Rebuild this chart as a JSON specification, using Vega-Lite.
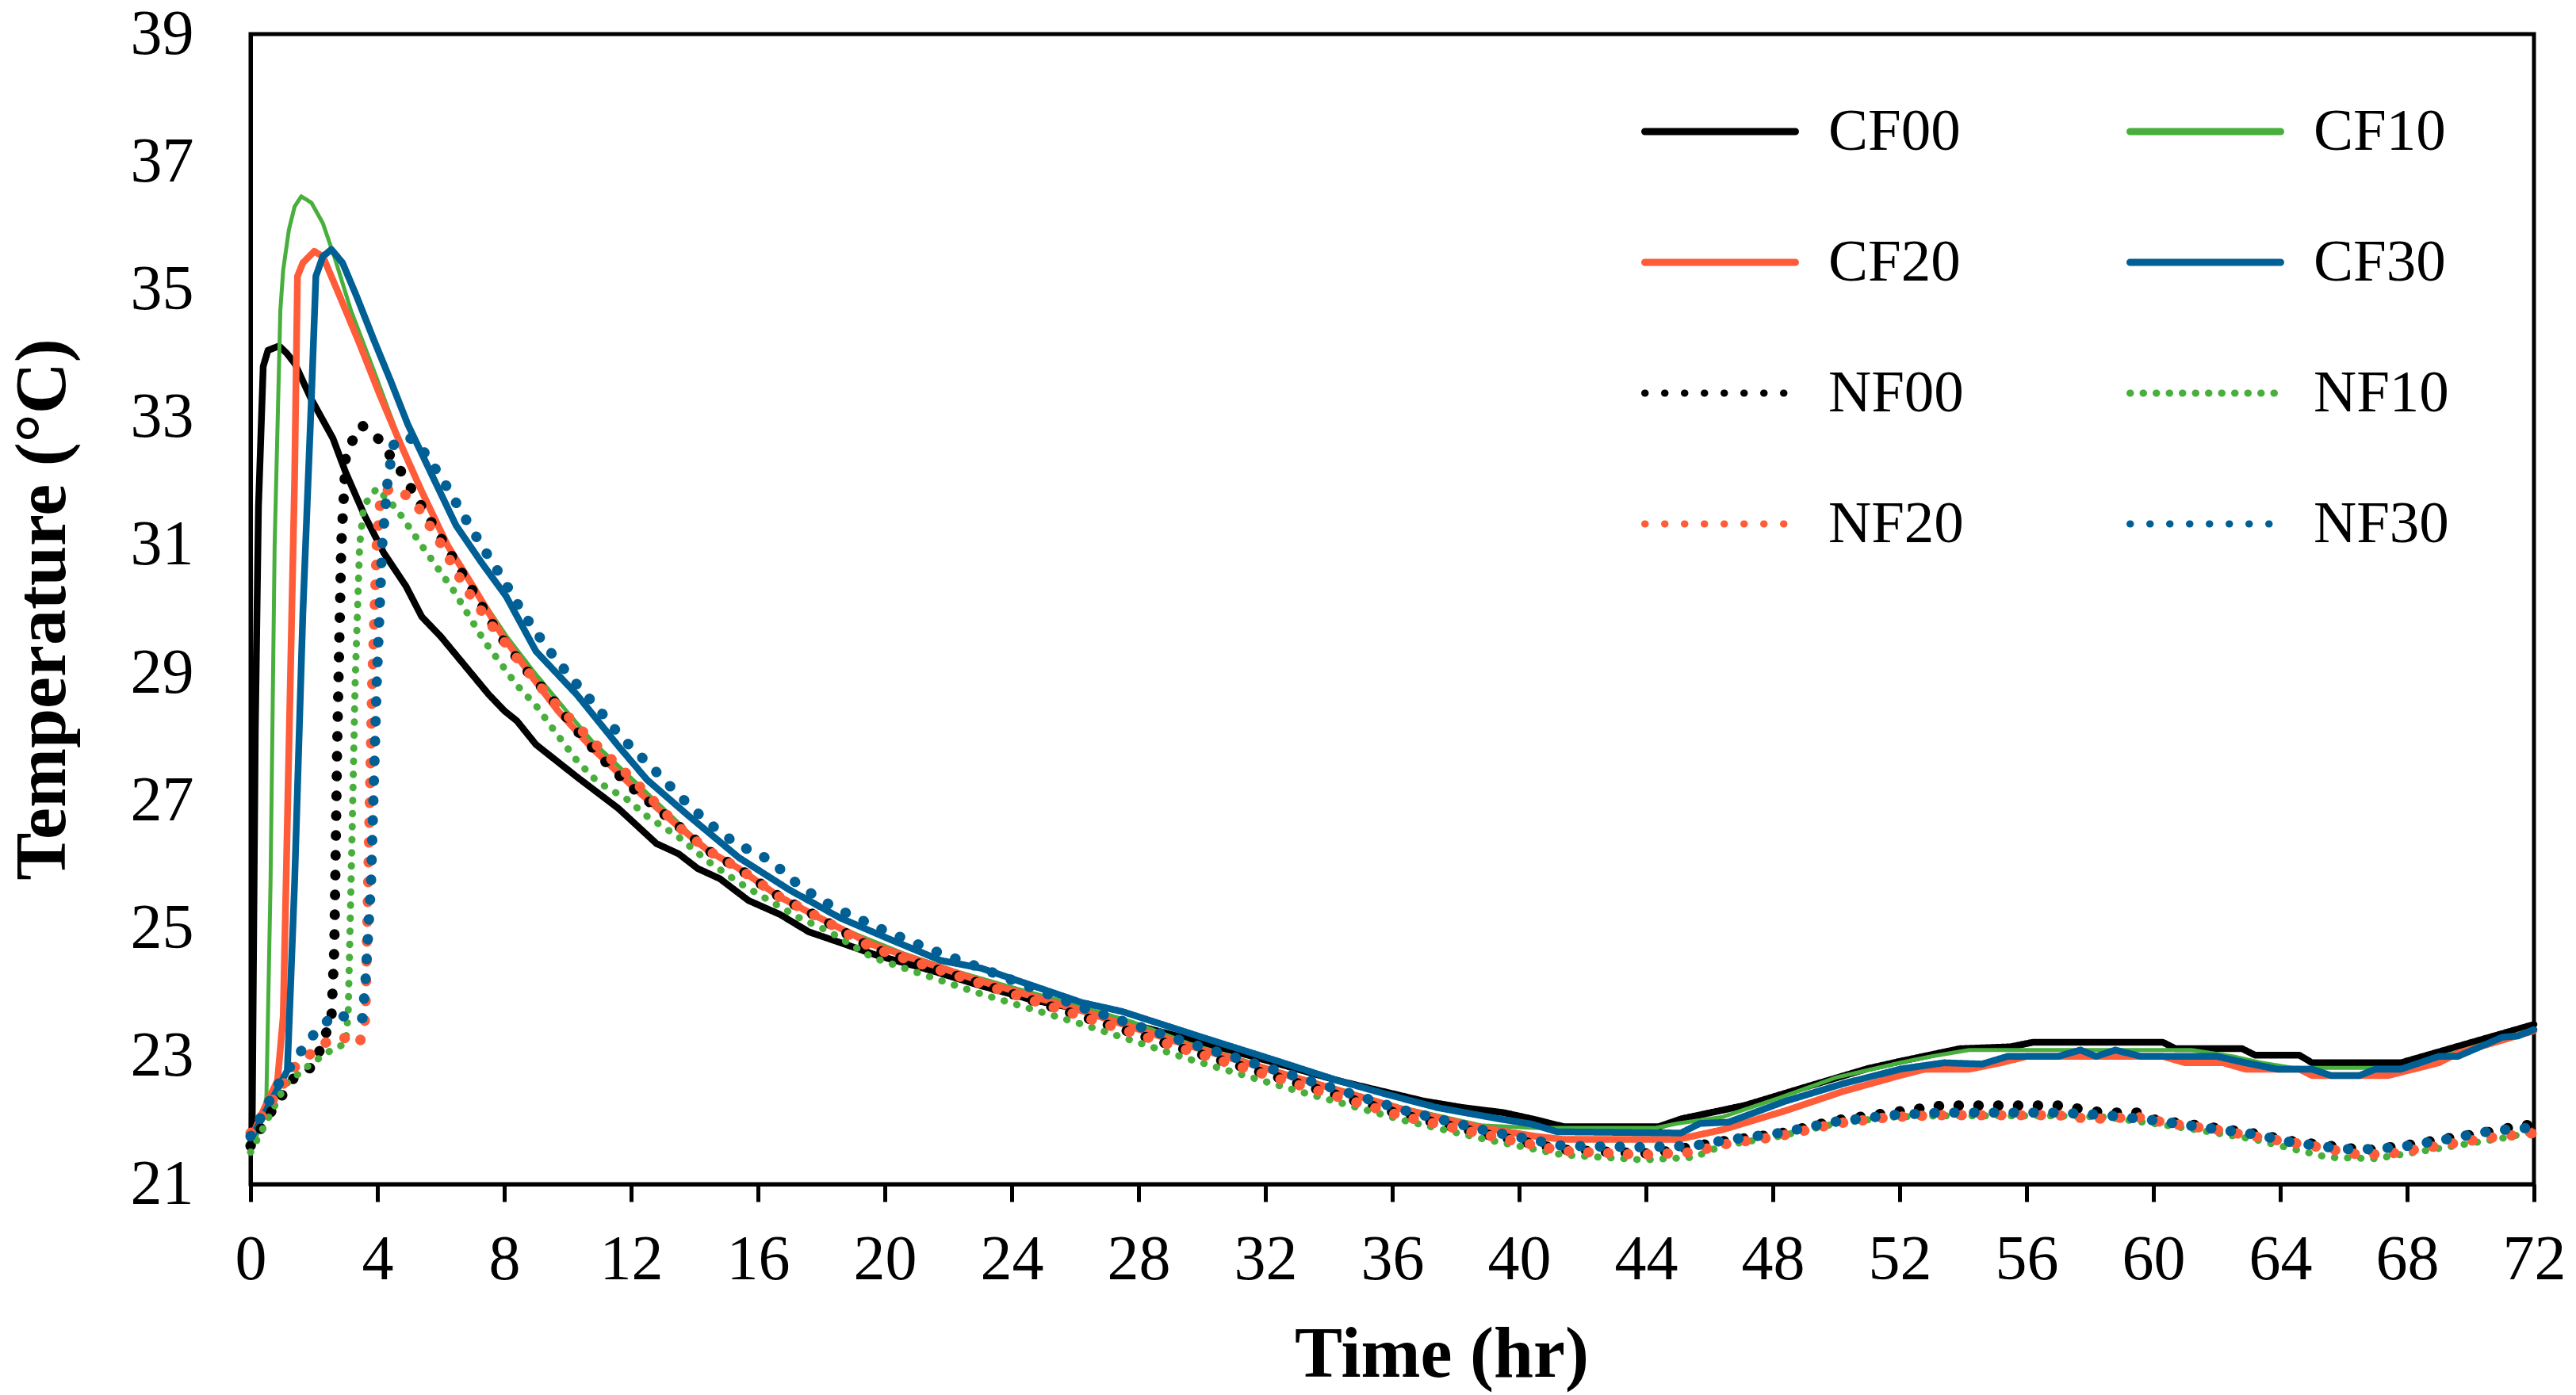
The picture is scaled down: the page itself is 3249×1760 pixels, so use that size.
{
  "$schema": "https://vega.github.io/schema/vega-lite/v6.json",
  "width": 2880,
  "height": 1451,
  "autosize": {"type": "none"},
  "padding": {"left": 316, "top": 43, "right": 53, "bottom": 266},
  "background": "white",
  "config": {
    "view": {"stroke": "black", "strokeWidth": 5},
    "font": "Liberation Serif",
    "axis": {
      "labelFont": "Liberation Serif",
      "titleFont": "Liberation Serif",
      "labelColor": "black",
      "titleColor": "black",
      "domainColor": "black",
      "tickColor": "black",
      "domainWidth": 5,
      "grid": false,
      "labelFlush": false,
      "labelOverlap": false
    }
  },
  "datasets": {
    "d": [
      {"s":"CF00","t":0,"T":21.6},{"s":"CF00","t":0.05,"T":21.8},{"s":"CF00","t":0.15,"T":28.1},{"s":"CF00","t":0.25,"T":31.6},{"s":"CF00","t":0.4,"T":33.8},{"s":"CF00","t":0.55,"T":34.05},{"s":"CF00","t":0.9,"T":34.12},{"s":"CF00","t":1.15,"T":34.0},{"s":"CF00","t":1.4,"T":33.84},{"s":"CF00","t":1.9,"T":33.3},{"s":"CF00","t":2.6,"T":32.67},{"s":"CF00","t":3.0,"T":32.14},{"s":"CF00","t":3.6,"T":31.46},{"s":"CF00","t":4.2,"T":30.88},{"s":"CF00","t":4.9,"T":30.36},{"s":"CF00","t":5.4,"T":29.88},{"s":"CF00","t":6.0,"T":29.57},{"s":"CF00","t":6.7,"T":29.15},{"s":"CF00","t":7.5,"T":28.67},{"s":"CF00","t":8.0,"T":28.41},{"s":"CF00","t":8.4,"T":28.25},{"s":"CF00","t":9.0,"T":27.88},{"s":"CF00","t":10.3,"T":27.37},{"s":"CF00","t":11.6,"T":26.88},{"s":"CF00","t":12.8,"T":26.33},{"s":"CF00","t":13.5,"T":26.17},{"s":"CF00","t":14.1,"T":25.94},{"s":"CF00","t":14.8,"T":25.78},{"s":"CF00","t":15.7,"T":25.44},{"s":"CF00","t":16.7,"T":25.22},{"s":"CF00","t":17.6,"T":24.95},{"s":"CF00","t":18.6,"T":24.78},{"s":"CF00","t":19.7,"T":24.59},{"s":"CF00","t":21.5,"T":24.34},{"s":"CF00","t":23.0,"T":24.11},{"s":"CF00","t":24.6,"T":23.89},{"s":"CF00","t":26.2,"T":23.73},{"s":"CF00","t":27.8,"T":23.5},{"s":"CF00","t":30.0,"T":23.22},{"s":"CF00","t":32.3,"T":22.9},{"s":"CF00","t":34.3,"T":22.62},{"s":"CF00","t":35.3,"T":22.5},{"s":"CF00","t":37.0,"T":22.3},{"s":"CF00","t":38.2,"T":22.2},{"s":"CF00","t":39.5,"T":22.12},{"s":"CF00","t":40.6,"T":22.0},{"s":"CF00","t":41.4,"T":21.9},{"s":"CF00","t":44.4,"T":21.9},{"s":"CF00","t":45.1,"T":22.02},{"s":"CF00","t":47.1,"T":22.23},{"s":"CF00","t":48.9,"T":22.5},{"s":"CF00","t":51.0,"T":22.81},{"s":"CF00","t":51.9,"T":22.91},{"s":"CF00","t":53.9,"T":23.12},{"s":"CF00","t":55.5,"T":23.15},{"s":"CF00","t":56.2,"T":23.22},{"s":"CF00","t":60.3,"T":23.22},{"s":"CF00","t":60.7,"T":23.12},{"s":"CF00","t":62.8,"T":23.12},{"s":"CF00","t":63.2,"T":23.02},{"s":"CF00","t":64.6,"T":23.02},{"s":"CF00","t":65.0,"T":22.9},{"s":"CF00","t":67.8,"T":22.9},{"s":"CF00","t":68.5,"T":23.0},{"s":"CF00","t":69.9,"T":23.2},{"s":"CF00","t":72,"T":23.5},

      {"s":"CF10","t":0,"T":21.5},{"s":"CF10","t":0.3,"T":21.9},{"s":"CF10","t":0.5,"T":22.36},{"s":"CF10","t":0.63,"T":25.7},{"s":"CF10","t":0.76,"T":31.0},{"s":"CF10","t":0.94,"T":34.68},{"s":"CF10","t":1.03,"T":35.31},{"s":"CF10","t":1.21,"T":35.94},{"s":"CF10","t":1.39,"T":36.3},{"s":"CF10","t":1.6,"T":36.46},{"s":"CF10","t":1.92,"T":36.36},{"s":"CF10","t":2.28,"T":36.04},{"s":"CF10","t":2.64,"T":35.52},{"s":"CF10","t":3.17,"T":34.67},{"s":"CF10","t":3.89,"T":33.73},{"s":"CF10","t":4.6,"T":32.78},{"s":"CF10","t":5.32,"T":31.94},{"s":"CF10","t":6.12,"T":31.1},{"s":"CF10","t":7.01,"T":30.36},{"s":"CF10","t":8.08,"T":29.57},{"s":"CF10","t":8.98,"T":28.99},{"s":"CF10","t":9.87,"T":28.46},{"s":"CF10","t":10.76,"T":27.94},{"s":"CF10","t":12.1,"T":27.31},{"s":"CF10","t":13.44,"T":26.68},{"s":"CF10","t":14.4,"T":26.22},{"s":"CF10","t":15.4,"T":25.94},{"s":"CF10","t":16.7,"T":25.5},{"s":"CF10","t":17.9,"T":25.17},{"s":"CF10","t":19.2,"T":24.89},{"s":"CF10","t":20.6,"T":24.61},{"s":"CF10","t":22.2,"T":24.34},{"s":"CF10","t":23.8,"T":24.11},{"s":"CF10","t":25.4,"T":23.89},{"s":"CF10","t":27.8,"T":23.54},{"s":"CF10","t":29.6,"T":23.2},{"s":"CF10","t":33.0,"T":22.68},{"s":"CF10","t":36.3,"T":22.2},{"s":"CF10","t":38.8,"T":21.92},{"s":"CF10","t":40.5,"T":21.88},{"s":"CF10","t":44.3,"T":21.88},{"s":"CF10","t":45.0,"T":21.95},{"s":"CF10","t":46.4,"T":22.05},{"s":"CF10","t":48.2,"T":22.35},{"s":"CF10","t":50.0,"T":22.67},{"s":"CF10","t":52.1,"T":22.91},{"s":"CF10","t":53.0,"T":23.0},{"s":"CF10","t":54.2,"T":23.1},{"s":"CF10","t":61.2,"T":23.1},{"s":"CF10","t":62.5,"T":23.0},{"s":"CF10","t":63.4,"T":22.9},{"s":"CF10","t":64.4,"T":22.82},{"s":"CF10","t":67.8,"T":22.82},{"s":"CF10","t":69.1,"T":23.0},{"s":"CF10","t":71.0,"T":23.28},{"s":"CF10","t":72,"T":23.43},

      {"s":"CF20","t":0,"T":21.7},{"s":"CF20","t":0.49,"T":22.25},{"s":"CF20","t":0.85,"T":22.62},{"s":"CF20","t":1.03,"T":23.63},{"s":"CF20","t":1.21,"T":27.83},{"s":"CF20","t":1.39,"T":32.05},{"s":"CF20","t":1.48,"T":35.21},{"s":"CF20","t":1.65,"T":35.42},{"s":"CF20","t":2.01,"T":35.6},{"s":"CF20","t":2.28,"T":35.52},{"s":"CF20","t":2.82,"T":34.89},{"s":"CF20","t":3.44,"T":34.15},{"s":"CF20","t":4.07,"T":33.36},{"s":"CF20","t":4.69,"T":32.63},{"s":"CF20","t":5.4,"T":31.84},{"s":"CF20","t":6.21,"T":31.0},{"s":"CF20","t":7.01,"T":30.36},{"s":"CF20","t":7.9,"T":29.62},{"s":"CF20","t":8.8,"T":28.99},{"s":"CF20","t":9.69,"T":28.41},{"s":"CF20","t":10.76,"T":27.83},{"s":"CF20","t":12.1,"T":27.2},{"s":"CF20","t":13.44,"T":26.62},{"s":"CF20","t":14.43,"T":26.22},{"s":"CF20","t":15.4,"T":25.94},{"s":"CF20","t":16.67,"T":25.5},{"s":"CF20","t":17.94,"T":25.17},{"s":"CF20","t":19.6,"T":24.75},{"s":"CF20","t":22.95,"T":24.19},{"s":"CF20","t":26.3,"T":23.7},{"s":"CF20","t":29.64,"T":23.16},{"s":"CF20","t":33.0,"T":22.66},{"s":"CF20","t":36.34,"T":22.17},{"s":"CF20","t":38.85,"T":21.88},{"s":"CF20","t":40.5,"T":21.75},{"s":"CF20","t":41.4,"T":21.7},{"s":"CF20","t":45.0,"T":21.7},{"s":"CF20","t":46.4,"T":21.85},{"s":"CF20","t":48.4,"T":22.15},{"s":"CF20","t":50.2,"T":22.45},{"s":"CF20","t":52.0,"T":22.7},{"s":"CF20","t":52.8,"T":22.8},{"s":"CF20","t":54.2,"T":22.8},{"s":"CF20","t":55.2,"T":22.9},{"s":"CF20","t":56.0,"T":23.0},{"s":"CF20","t":60.3,"T":23.0},{"s":"CF20","t":61.0,"T":22.9},{"s":"CF20","t":62.2,"T":22.9},{"s":"CF20","t":62.9,"T":22.8},{"s":"CF20","t":64.6,"T":22.8},{"s":"CF20","t":65.0,"T":22.7},{"s":"CF20","t":67.4,"T":22.7},{"s":"CF20","t":68.2,"T":22.8},{"s":"CF20","t":69.0,"T":22.9},{"s":"CF20","t":69.6,"T":23.05},{"s":"CF20","t":72,"T":23.4},

      {"s":"CF30","t":0,"T":21.7},{"s":"CF30","t":0.49,"T":22.15},{"s":"CF30","t":0.94,"T":22.57},{"s":"CF30","t":1.16,"T":22.78},{"s":"CF30","t":1.39,"T":25.73},{"s":"CF30","t":1.65,"T":29.94},{"s":"CF30","t":1.92,"T":33.31},{"s":"CF30","t":2.06,"T":35.21},{"s":"CF30","t":2.28,"T":35.52},{"s":"CF30","t":2.55,"T":35.63},{"s":"CF30","t":2.9,"T":35.42},{"s":"CF30","t":3.35,"T":34.89},{"s":"CF30","t":3.89,"T":34.21},{"s":"CF30","t":4.42,"T":33.57},{"s":"CF30","t":4.96,"T":32.89},{"s":"CF30","t":5.67,"T":32.15},{"s":"CF30","t":6.48,"T":31.31},{"s":"CF30","t":7.28,"T":30.73},{"s":"CF30","t":8.06,"T":30.2},{"s":"CF30","t":9.0,"T":29.34},{"s":"CF30","t":10.29,"T":28.66},{"s":"CF30","t":11.56,"T":27.88},{"s":"CF30","t":12.5,"T":27.33},{"s":"CF30","t":13.8,"T":26.77},{"s":"CF30","t":15.4,"T":26.11},{"s":"CF30","t":16.98,"T":25.61},{"s":"CF30","t":18.58,"T":25.17},{"s":"CF30","t":20.17,"T":24.83},{"s":"CF30","t":21.77,"T":24.5},{"s":"CF30","t":23.04,"T":24.38},{"s":"CF30","t":24.64,"T":24.11},{"s":"CF30","t":26.23,"T":23.84},{"s":"CF30","t":27.5,"T":23.7},{"s":"CF30","t":30.0,"T":23.3},{"s":"CF30","t":32.3,"T":22.94},{"s":"CF30","t":34.3,"T":22.62},{"s":"CF30","t":35.8,"T":22.41},{"s":"CF30","t":37.4,"T":22.2},{"s":"CF30","t":38.5,"T":22.1},{"s":"CF30","t":39.4,"T":22.02},{"s":"CF30","t":40.4,"T":21.94},{"s":"CF30","t":41.2,"T":21.82},{"s":"CF30","t":45.1,"T":21.8},{"s":"CF30","t":45.7,"T":21.95},{"s":"CF30","t":46.6,"T":21.97},{"s":"CF30","t":48.4,"T":22.3},{"s":"CF30","t":50.2,"T":22.57},{"s":"CF30","t":52.0,"T":22.8},{"s":"CF30","t":53.4,"T":22.9},{"s":"CF30","t":54.6,"T":22.88},{"s":"CF30","t":55.4,"T":23.0},{"s":"CF30","t":57.0,"T":23.0},{"s":"CF30","t":57.7,"T":23.1},{"s":"CF30","t":58.2,"T":23.0},{"s":"CF30","t":58.8,"T":23.1},{"s":"CF30","t":59.6,"T":23.0},{"s":"CF30","t":62.0,"T":23.0},{"s":"CF30","t":62.9,"T":22.9},{"s":"CF30","t":63.9,"T":22.8},{"s":"CF30","t":65.0,"T":22.8},{"s":"CF30","t":65.6,"T":22.7},{"s":"CF30","t":66.5,"T":22.7},{"s":"CF30","t":67.0,"T":22.8},{"s":"CF30","t":67.8,"T":22.8},{"s":"CF30","t":69.0,"T":23.0},{"s":"CF30","t":69.6,"T":23.0},{"s":"CF30","t":71.0,"T":23.3},{"s":"CF30","t":71.5,"T":23.32},{"s":"CF30","t":72,"T":23.42},

      {"s":"NF00","t":0,"T":21.6},{"s":"NF00","t":0.67,"T":22.15},{"s":"NF00","t":1.39,"T":22.68},{"s":"NF00","t":1.92,"T":22.83},{"s":"NF00","t":2.19,"T":23.1},{"s":"NF00","t":2.55,"T":23.6},{"s":"NF00","t":2.64,"T":24.67},{"s":"NF00","t":2.73,"T":27.83},{"s":"NF00","t":2.86,"T":31.0},{"s":"NF00","t":3.0,"T":32.36},{"s":"NF00","t":3.17,"T":32.6},{"s":"NF00","t":3.5,"T":32.88},{"s":"NF00","t":3.98,"T":32.7},{"s":"NF00","t":4.69,"T":32.2},{"s":"NF00","t":5.32,"T":31.67},{"s":"NF00","t":6.03,"T":31.09},{"s":"NF00","t":6.92,"T":30.36},{"s":"NF00","t":7.8,"T":29.62},{"s":"NF00","t":8.7,"T":29.04},{"s":"NF00","t":9.5,"T":28.6},{"s":"NF00","t":10.29,"T":28.1},{"s":"NF00","t":11.09,"T":27.66},{"s":"NF00","t":11.88,"T":27.27},{"s":"NF00","t":12.68,"T":26.94},{"s":"NF00","t":13.48,"T":26.61},{"s":"NF00","t":14.43,"T":26.22},{"s":"NF00","t":15.4,"T":25.94},{"s":"NF00","t":16.67,"T":25.5},{"s":"NF00","t":17.94,"T":25.17},{"s":"NF00","t":19.6,"T":24.69},{"s":"NF00","t":22.95,"T":24.15},{"s":"NF00","t":26.3,"T":23.61},{"s":"NF00","t":29.64,"T":23.08},{"s":"NF00","t":33.0,"T":22.58},{"s":"NF00","t":36.34,"T":22.08},{"s":"NF00","t":38.85,"T":21.79},{"s":"NF00","t":41.36,"T":21.54},{"s":"NF00","t":43.9,"T":21.48},{"s":"NF00","t":44.6,"T":21.51},{"s":"NF00","t":46.4,"T":21.67},{"s":"NF00","t":48.2,"T":21.79},{"s":"NF00","t":50.0,"T":22.0},{"s":"NF00","t":51.7,"T":22.12},{"s":"NF00","t":53.35,"T":22.23},{"s":"NF00","t":57.0,"T":22.23},{"s":"NF00","t":58.4,"T":22.12},{"s":"NF00","t":59.5,"T":22.12},{"s":"NF00","t":60.1,"T":22.0},{"s":"NF00","t":61.4,"T":21.92},{"s":"NF00","t":63.2,"T":21.79},{"s":"NF00","t":64.4,"T":21.67},{"s":"NF00","t":66.7,"T":21.53},{"s":"NF00","t":68.0,"T":21.61},{"s":"NF00","t":69.2,"T":21.71},{"s":"NF00","t":70.5,"T":21.81},{"s":"NF00","t":71.6,"T":21.92},{"s":"NF00","t":72,"T":21.93},

      {"s":"NF10","t":0,"T":21.5},{"s":"NF10","t":1.12,"T":22.57},{"s":"NF10","t":1.92,"T":22.89},{"s":"NF10","t":2.55,"T":23.1},{"s":"NF10","t":3.0,"T":23.2},{"s":"NF10","t":3.08,"T":23.7},{"s":"NF10","t":3.17,"T":25.73},{"s":"NF10","t":3.3,"T":28.88},{"s":"NF10","t":3.44,"T":31.0},{"s":"NF10","t":3.57,"T":31.62},{"s":"NF10","t":3.98,"T":31.89},{"s":"NF10","t":4.6,"T":31.57},{"s":"NF10","t":5.49,"T":30.93},{"s":"NF10","t":6.39,"T":30.3},{"s":"NF10","t":7.37,"T":29.5},{"s":"NF10","t":8.38,"T":28.82},{"s":"NF10","t":9.0,"T":28.49},{"s":"NF10","t":9.65,"T":28.05},{"s":"NF10","t":10.29,"T":27.63},{"s":"NF10","t":10.93,"T":27.3},{"s":"NF10","t":11.88,"T":27.02},{"s":"NF10","t":12.52,"T":26.75},{"s":"NF10","t":13.48,"T":26.44},{"s":"NF10","t":14.43,"T":26.05},{"s":"NF10","t":15.4,"T":25.72},{"s":"NF10","t":16.35,"T":25.44},{"s":"NF10","t":17.3,"T":25.17},{"s":"NF10","t":18.26,"T":24.95},{"s":"NF10","t":19.6,"T":24.55},{"s":"NF10","t":22.95,"T":23.99},{"s":"NF10","t":26.3,"T":23.49},{"s":"NF10","t":29.64,"T":22.95},{"s":"NF10","t":33.0,"T":22.46},{"s":"NF10","t":36.34,"T":22.0},{"s":"NF10","t":38.85,"T":21.71},{"s":"NF10","t":41.36,"T":21.46},{"s":"NF10","t":43.9,"T":21.38},{"s":"NF10","t":45.5,"T":21.42},{"s":"NF10","t":46.4,"T":21.6},{"s":"NF10","t":48.2,"T":21.75},{"s":"NF10","t":50.0,"T":21.95},{"s":"NF10","t":51.7,"T":22.05},{"s":"NF10","t":53.3,"T":22.07},{"s":"NF10","t":57.0,"T":22.07},{"s":"NF10","t":58.5,"T":22.05},{"s":"NF10","t":60.0,"T":21.95},{"s":"NF10","t":61.4,"T":21.85},{"s":"NF10","t":63.2,"T":21.7},{"s":"NF10","t":64.4,"T":21.55},{"s":"NF10","t":65.5,"T":21.42},{"s":"NF10","t":67.0,"T":21.4},{"s":"NF10","t":68.0,"T":21.48},{"s":"NF10","t":69.5,"T":21.6},{"s":"NF10","t":71.0,"T":21.72},{"s":"NF10","t":72,"T":21.82},

      {"s":"NF20","t":0,"T":21.8},{"s":"NF20","t":1.39,"T":22.83},{"s":"NF20","t":2.28,"T":23.2},{"s":"NF20","t":2.9,"T":23.3},{"s":"NF20","t":3.44,"T":23.2},{"s":"NF20","t":3.62,"T":23.6},{"s":"NF20","t":3.71,"T":25.73},{"s":"NF20","t":3.84,"T":28.88},{"s":"NF20","t":3.98,"T":31.0},{"s":"NF20","t":4.11,"T":31.8},{"s":"NF20","t":4.42,"T":31.89},{"s":"NF20","t":4.78,"T":31.84},{"s":"NF20","t":5.32,"T":31.57},{"s":"NF20","t":6.03,"T":31.0},{"s":"NF20","t":6.74,"T":30.36},{"s":"NF20","t":7.55,"T":29.78},{"s":"NF20","t":8.53,"T":29.15},{"s":"NF20","t":9.42,"T":28.62},{"s":"NF20","t":10.76,"T":27.94},{"s":"NF20","t":12.1,"T":27.31},{"s":"NF20","t":13.48,"T":26.6},{"s":"NF20","t":14.43,"T":26.22},{"s":"NF20","t":15.4,"T":25.94},{"s":"NF20","t":16.67,"T":25.5},{"s":"NF20","t":17.94,"T":25.17},{"s":"NF20","t":19.6,"T":24.7},{"s":"NF20","t":22.95,"T":24.15},{"s":"NF20","t":26.3,"T":23.61},{"s":"NF20","t":29.64,"T":23.08},{"s":"NF20","t":33.0,"T":22.56},{"s":"NF20","t":36.34,"T":22.06},{"s":"NF20","t":38.85,"T":21.78},{"s":"NF20","t":41.36,"T":21.52},{"s":"NF20","t":43.9,"T":21.46},{"s":"NF20","t":45.5,"T":21.5},{"s":"NF20","t":46.4,"T":21.62},{"s":"NF20","t":48.2,"T":21.75},{"s":"NF20","t":50.0,"T":21.95},{"s":"NF20","t":51.7,"T":22.05},{"s":"NF20","t":53.3,"T":22.08},{"s":"NF20","t":57.0,"T":22.08},{"s":"NF20","t":58.0,"T":22.02},{"s":"NF20","t":59.5,"T":22.05},{"s":"NF20","t":60.5,"T":21.95},{"s":"NF20","t":62.0,"T":21.85},{"s":"NF20","t":63.5,"T":21.72},{"s":"NF20","t":65.0,"T":21.6},{"s":"NF20","t":66.5,"T":21.46},{"s":"NF20","t":67.5,"T":21.48},{"s":"NF20","t":69.0,"T":21.6},{"s":"NF20","t":70.5,"T":21.72},{"s":"NF20","t":72,"T":21.8},

      {"s":"NF30","t":0,"T":21.75},{"s":"NF30","t":0.94,"T":22.62},{"s":"NF30","t":1.83,"T":23.25},{"s":"NF30","t":2.28,"T":23.5},{"s":"NF30","t":2.73,"T":23.67},{"s":"NF30","t":3.26,"T":23.56},{"s":"NF30","t":3.53,"T":23.6},{"s":"NF30","t":3.62,"T":24.14},{"s":"NF30","t":3.8,"T":25.73},{"s":"NF30","t":3.98,"T":28.88},{"s":"NF30","t":4.15,"T":31.0},{"s":"NF30","t":4.33,"T":32.05},{"s":"NF30","t":4.51,"T":32.57},{"s":"NF30","t":4.96,"T":32.7},{"s":"NF30","t":5.32,"T":32.57},{"s":"NF30","t":6.03,"T":32.05},{"s":"NF30","t":6.65,"T":31.52},{"s":"NF30","t":7.28,"T":31.0},{"s":"NF30","t":7.97,"T":30.46},{"s":"NF30","t":8.6,"T":29.93},{"s":"NF30","t":9.34,"T":29.4},{"s":"NF30","t":10.1,"T":28.93},{"s":"NF30","t":10.93,"T":28.46},{"s":"NF30","t":11.7,"T":27.99},{"s":"NF30","t":12.6,"T":27.55},{"s":"NF30","t":13.48,"T":27.1},{"s":"NF30","t":14.35,"T":26.69},{"s":"NF30","t":15.3,"T":26.33},{"s":"NF30","t":16.35,"T":26.08},{"s":"NF30","t":17.38,"T":25.64},{"s":"NF30","t":18.4,"T":25.33},{"s":"NF30","t":19.85,"T":25.0},{"s":"NF30","t":21.45,"T":24.67},{"s":"NF30","t":23.0,"T":24.39},{"s":"NF30","t":26.3,"T":23.75},{"s":"NF30","t":29.64,"T":23.2},{"s":"NF30","t":33.0,"T":22.68},{"s":"NF30","t":36.34,"T":22.16},{"s":"NF30","t":38.85,"T":21.85},{"s":"NF30","t":41.36,"T":21.6},{"s":"NF30","t":43.9,"T":21.58},{"s":"NF30","t":45.5,"T":21.6},{"s":"NF30","t":46.4,"T":21.68},{"s":"NF30","t":48.2,"T":21.8},{"s":"NF30","t":50.0,"T":21.98},{"s":"NF30","t":51.7,"T":22.08},{"s":"NF30","t":53.3,"T":22.12},{"s":"NF30","t":57.0,"T":22.12},{"s":"NF30","t":58.5,"T":22.08},{"s":"NF30","t":60.0,"T":22.0},{"s":"NF30","t":61.4,"T":21.9},{"s":"NF30","t":63.2,"T":21.78},{"s":"NF30","t":64.4,"T":21.65},{"s":"NF30","t":66.0,"T":21.55},{"s":"NF30","t":67.0,"T":21.55},{"s":"NF30","t":68.0,"T":21.6},{"s":"NF30","t":69.2,"T":21.7},{"s":"NF30","t":70.5,"T":21.82},{"s":"NF30","t":71.6,"T":21.88},{"s":"NF30","t":72,"T":21.87}
    ]
  },
  "data": {"name": "d"},
  "encoding": {
    "x": {
      "field": "t", "type": "quantitative",
      "scale": {"domain": [0, 72], "nice": false, "zero": false},
      "axis": {
        "title": "Time (hr)",
        "values": [0,4,8,12,16,20,24,28,32,36,40,44,48,52,56,60,64,68,72],
        "labelFontSize": 80,
        "labelPadding": 34,
        "tickSize": 22,
        "tickWidth": 5,
        "titleFontSize": 90,
        "titleFontWeight": "bold",
        "titlePadding": 36,
        "titleX": 1502
      }
    },
    "y": {
      "field": "T", "type": "quantitative",
      "scale": {"domain": [21, 39], "nice": false, "zero": false},
      "axis": {
        "title": "Temperature (°C)",
        "values": [21,23,25,27,29,31,33,35,37,39],
        "ticks": false,
        "tickSize": 0,
        "labelFontSize": 80,
        "labelPadding": 72,
        "titleFontSize": 90,
        "titleFontWeight": "bold",
        "titlePadding": 64
      }
    },
    "color": {
      "field": "s", "type": "nominal",
      "scale": {
        "domain": ["CF00","CF10","CF20","CF30","NF00","NF10","NF20","NF30"],
        "range": ["#000000","#48AF3C","#FF5C39","#005F95","#000000","#48AF3C","#FF5C39","#005F95"]
      },
      "legend": {
        "title": null,
        "orient": "none",
        "direction": "horizontal",
        "legendX": 1754,
        "legendY": 78,
        "columns": 2,
        "columnPadding": 205,
        "rowPadding": 75,
        "clipHeight": 90,
        "padding": 0,
        "symbolType": "stroke",
        "symbolSize": 36100,
        "symbolStrokeWidth": 9,
        "labelFont": "Liberation Serif",
        "labelFontSize": 75,
        "labelColor": "black",
        "labelOffset": 37,
        "labelLimit": 600,
        "encoding": {"symbols": {"strokeCap": {"value": "round"}, "strokeWidth": {"value": 9}}}
      }
    },
    "strokeDash": {
      "field": "s", "type": "nominal",
      "scale": {
        "domain": ["CF00","CF10","CF20","CF30","NF00","NF10","NF20","NF30"],
        "range": [[1,0],[1,0],[1,0],[1,0],[0.5,24.5],[0.5,16],[0.5,24.5],[0.5,24.5]]
      }
    }
  },
  "layer": [
    {
      "transform": [{"filter": {"field": "s", "equal": "CF00"}}],
      "mark": {"type": "line", "strokeWidth": 8.5, "strokeCap": "round", "strokeJoin": "round"}
    },
    {
      "transform": [{"filter": {"field": "s", "equal": "CF10"}}],
      "mark": {"type": "line", "strokeWidth": 5, "strokeCap": "round", "strokeJoin": "round"}
    },
    {
      "transform": [{"filter": {"field": "s", "oneOf": ["CF20","CF30"]}}],
      "mark": {"type": "line", "strokeWidth": 8.5, "strokeCap": "round", "strokeJoin": "round"}
    },
    {
      "transform": [{"filter": {"field": "s", "equal": "NF00"}}],
      "mark": {"type": "line", "strokeWidth": 13, "strokeCap": "round", "strokeJoin": "round"}
    },
    {
      "transform": [{"filter": {"field": "s", "equal": "NF10"}}],
      "mark": {"type": "line", "strokeWidth": 9, "strokeCap": "round", "strokeJoin": "round"}
    },
    {
      "transform": [{"filter": {"field": "s", "oneOf": ["NF20","NF30"]}}],
      "mark": {"type": "line", "strokeWidth": 13, "strokeCap": "round", "strokeJoin": "round"}
    }
  ]
}
